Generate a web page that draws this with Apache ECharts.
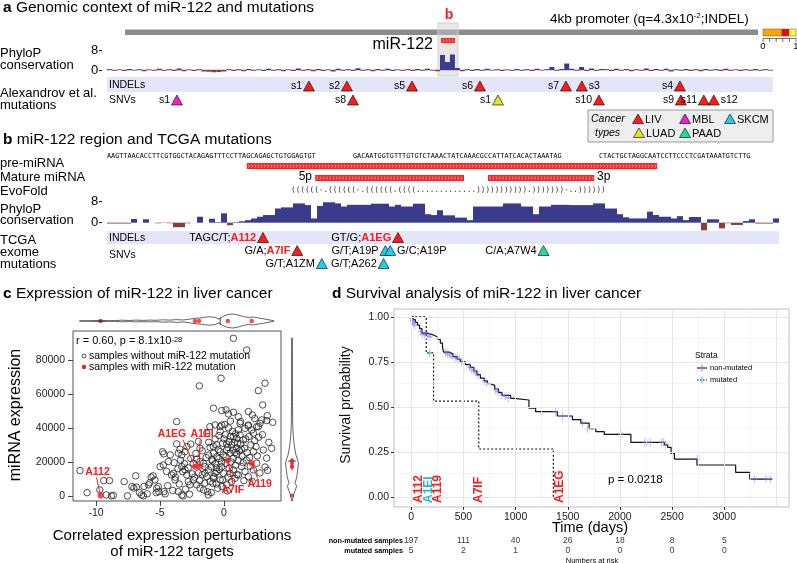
<!DOCTYPE html>
<html>
<head>
<meta charset="utf-8">
<script src="https://cdn.jsdelivr.net/npm/echarts@6/dist/echarts.min.js"></script>
<style>
html, body { margin: 0; padding: 0; background: #fff; }
#main { width: 797px; height: 563px; }
</style>
</head>
<body>
<div id="main"></div>
<script>
// ---------- panel a: genomic context ----------
const aPhylo = [0.3,-0.3,0.2,-0.4,0.4,-0.2,0.3,-0.5,0.2,-0.3,
  0.5,-0.3,0.3,-0.4,0.6,-0.5,0.2,-0.4,0.3,-0.6,
  -0.7,-0.9,-0.8,-0.6,0.3,-0.4,0.3,-0.5,0.4,-0.3,
  0.2,-0.4,0.5,-0.3,0.3,-0.5,0.2,-0.4,0.6,-0.3,
  0.3,-0.5,0.4,-0.4,0.2,-0.6,0.5,-0.3,0.3,-0.4,
  0.7,-0.3,0.3,-0.5,0.4,-0.3,0.5,-0.4,0.2,-0.3,
  0.3,-0.4,0.4,-0.3,0.5,-0.2,-0.5,
  6.0,3.2,6.2,0.8,
  -0.5,0.3,-0.4,0.4,-0.3,0.5,-0.2,0.3,-0.4,
  0.2,-0.3,0.4,-0.3,0.3,-0.4,0.5,-0.2,0.3,1.2,
  -0.3,0.4,2.6,0.5,-0.3,1.2,-0.4,0.6,-0.3,0.4,
  0.3,-0.4,0.5,-0.3,0.4,-0.5,0.3,-0.3,0.6,-0.4,
  0.4,-0.3,0.5,-0.6,0.3,-0.3,0.4,-0.4,0.3,-0.5,
  0.4,-0.3,0.3,-0.4,0.5,-0.3,0.2,-0.4,0.3,-0.3,
  0.4,-0.3,0.3,-0.2];
// positions in bp along the 4.4 kb window
const aIndelPos = [1334, 1585, 2015, 2464, 3032, 3137, 3785];
const aIndelNames = ['s1', 's2', 's5', 's6', 's7', 's3', 's4'];
const aIndelType = ['LIV', 'LIV', 'LIV', 'LIV', 'LIV', 'LIV', 'LIV'];
const aSnvPos = [462, 1625, 2583, 3250, 3791, 3943, 4009];
const aSnvNames = ['s1', 's8', 's1', 's10', 's9', 's11', 's12'];
const aSnvType = ['MBL', 'LIV', 'LUAD', 'LIV', 'LIV', 'LIV', 'LIV'];

// ---------- panel b: miR-122 region ----------
const bSeq = ['AAGTTAACACCTTCGTGGCTACAGAGTTTCCTTAGCAGAGCTGTGGAGTGT',
  'GACAATGGTGTTTGTGTCTAAACTATCAAACGCCATTATCACACTAAATAG',
  'CTACTGCTAGGCAATCCTTCCCTCGATAAATGTCTTG'];
const bEvoFold = '((((((-.((((((-.((((((.((((.............))))))))))).)))))))-..))))))';
const bPhylo = [-0.3,-0.3,-0.3,-0.3,1.3,0,1.2,0,-0.2,-0.1,
  -0.2,-1.6,-1.6,-0.2,0,2.1,0,1.4,0.2,3.3,
  -0.9,0.2,0.5,0.9,1.5,2.1,2.7,2.7,5.0,5.4,
  5.4,6.8,6.8,6.2,1.5,5.9,7.2,7.2,6.8,5.7,
  6.3,6.3,6.3,6.3,6.7,6.7,6.7,5.7,6.3,5.7,
  5.7,6.7,6.7,3.0,2.7,4.4,2.6,2.6,1.8,1.8,
  0.9,5.7,5.7,5.7,5.7,5.7,6.8,6.8,6.8,5.7,
  5.7,3.0,5.7,5.7,6.3,6.3,6.3,6.2,6.2,6.2,
  6.2,6.8,6.8,5.0,5.0,3.0,1.9,1.5,1.5,1.5,
  3.9,2.7,2.1,2.1,1.5,2.3,0.9,2.0,2.0,-2.7,
  1.2,1.2,-2.0,-0.2,-0.8,-0.8,0.6,1.2,-0.3,-0.3,
  -0.3,1.5];
// regions in base-slot units along the track
const preMirna = [[23.3, 91.7, 0]];
const matureMirna = [[34.7, 59.5, 1], [63.5, 81.2, 1]];
const bMutPos = [26.0, 48.5, 31.7, 35.8, 46.4, 47.2, 46.1, 72.75];
const bMutRow = [0, 0, 1, 2, 1, 1, 2, 1];
const bMutChange = ['TAGC/T', 'GT/G', 'G/A', 'G/T', 'G/T', 'G/C', 'G/T', 'C/A'];
const bMutSample = ['A112', 'A1EG', 'A7IF', 'A1ZM', 'A19P', 'A19P', 'A262', 'A7W4'];
const bMutType = ['LIV', 'LIV', 'LIV', 'SKCM', 'SKCM', 'SKCM', 'SKCM', 'PAAD'];

// ---------- panel c: expression scatter ----------
const nonMutPts = [
  [-11.25,14900],[-10.7,1900],[-9.7,3500],[-9.4,9000],[-8.95,9000],[-9.2,600],[-8.8,0],[-8.65,300],
  [-7.8,8400],[-7.55,0],[-7.2,5500],[-7.05,4600],[-6.9,11800],[-6.85,5200],[-6.6,1900],[-6.45,600],
  [-6.3,0],[-6.25,5600],[-6.0,1200],[-5.9,6500],[-5.8,7800],[-5.7,11000],[-5.55,11800],[-5.4,9400],
  [-5.26,4500],[-5.13,5500],[-5.3,1900],[-5.1,2500],[-4.7,2500],[-4.6,1200],
  [-5.0,17200],[-4.8,26000],[-4.7,24700],[-4.74,18200],[-4.35,20200],[-4.2,24100],[-4.1,12300],
  [-3.96,13300],[-3.83,9400],[-3.57,2500],[-3.3,600],[-3.2,0],[-3.7,30600],[-3.57,25100],[-3.44,27400],
  [-3.3,24100],[-3.05,26000],[-2.9,29000],[-3.7,43700],[-4.5,14500],[-4.4,6000],[-4.0,3200],
  [-3.9,19500],[-3.6,16000],[-3.4,21000],[-3.1,19000],[-3.8,11000],[-3.5,7000],[-3.0,4000],
  [-3.3,17200],[-3.23,14300],[-3.05,15300],[-2.91,12300],[-2.79,8400],[-2.66,6500],[-2.4,9400],
  [-2.13,6500],[-1.88,4500],[-1.6,3500],[-2.4,19200],[-2.13,21600],[-1.88,20200],[-1.6,19200],
  [-1.48,17200],[-1.88,28000],[-2.8,16500],[-2.6,22000],[-2.5,13000],[-2.3,11000],[-2.0,13500],
  [-1.9,9000],[-1.7,12500],[-1.5,7500],[-1.4,22500],[-2.2,25000],[-2.6,30500],[-2.0,32000],
  [-1.7,26500],[-1.23,600],[-1.3,2500],[-2.7,1000],
  [-1.1,28600],[-0.83,29000],[-0.57,30000],[-0.45,27400],[-1.35,36800],[-1.1,40700],[-0.3,37800],
  [-0.18,41700],[-1.48,13300],[-1.35,11300],[-1.23,15300],[-1.1,8400],[-0.88,7400],[-0.83,10400],
  [-0.7,13300],[-0.57,14300],[-0.3,9400],[-0.18,17200],[-0.05,13300],[-0.83,25100],[-0.57,23100],
  [-0.3,26000],[-0.05,24100],[-1.2,24000],[-1.0,17000],[-0.9,20500],[-0.7,19000],[-0.6,16500],
  [-0.4,22000],[-0.2,20000],[-0.1,31000],[-0.5,4500],[-1.0,2000],[-0.8,11500],[-0.1,9500],
  [-0.7,33500],[-0.4,35500],[-1.2,31500],[-0.95,21500],[-0.35,15500],[-0.15,5500],[-0.6,7000],
  [0.08,19200],[0.2,27000],[0.47,25100],[0.73,22200],[0.99,28000],[0.73,34900],[0.99,33900],
  [1.25,35900],[1.5,32900],[1.12,38800],[1.25,42700],[0.47,13300],[0.73,15300],[0.86,10400],
  [1.12,12300],[1.38,17200],[0.0,33500],[0.1,36000],[0.2,30500],[0.3,28500],[0.4,32000],
  [0.5,35000],[0.6,30000],[0.7,27000],[0.8,31500],[0.9,36500],[1.0,24500],[1.1,21000],
  [1.2,26500],[1.3,30500],[1.4,23500],[1.5,19500],[0.9,18000],[0.4,16000],[0.2,6500],
  [0.6,8500],[1.0,12500],[0.3,11000],[0.55,20000],[0.15,23000],[0.85,25500],[1.35,27500],
  [0.65,38000],[0.35,40000],[0.05,42000],[1.05,31000],[0.25,3000],
  [1.64,39800],[1.9,41700],[2.16,38800],[2.29,36900],[2.55,40700],[2.81,42700],[1.64,14300],
  [1.9,11300],[2.29,15300],[2.55,19200],[3.07,27000],[3.33,22200],[3.72,28000],[1.6,28000],
  [1.7,33500],[1.8,25500],[2.0,22500],[2.1,30000],[2.3,26000],[2.4,32500],[2.6,23500],
  [2.8,13500],[3.0,36000],[3.2,17000],[3.5,31500],[3.4,15000],[1.75,21000],[2.05,17500],
  [2.5,29000],[1.95,35000],[2.7,34500],[1.55,9000],[2.2,8500],
  [0.73,92700],[1.77,85800],[-0.23,69200],[-1.93,64700],[3.2,66300],[2.68,61900],[3.02,53500],
  [-0.83,51600],[-0.18,50200],[0.16,50600],[0.34,48200],[0.73,49200],[1.12,46600],[1.9,49600],
  [2.21,47600],[3.38,47200],[2.94,44700],[3.8,43300],[-0.7,41700],[-0.31,40700],[1.3,43700],
  [1.88,41200],[2.68,40700],[3.33,44300],[0.5,44000],[2.4,45500]];
const mutNames = ['A112', 'A1EG', 'A1EI', 'A7IF', 'A119'];
const mutX = [-9.65, -2.27, -1.95, 0.29, 2.16];
const mutY = [300, 17200, 17200, 20800, 19200];
// marginal violins (half widths)
const topVX = [-11.3,-10.5,-9.6,-9.0,-8.5,-8.0,-7.4,-6.9,-6.3,-5.8,-5.3,-4.8,-4.2,-3.7,-3.2,-2.7,-2.3,
  -1.9,-1.5,-1.1,-0.7,-0.4,-0.1,0.3,0.7,1.1,1.5,1.9,2.3,2.7,3.1,3.5,3.9];
const topVW = [0.2,0.3,0.6,0.3,0.4,0.8,0.5,0.9,0.6,0.9,0.7,1.2,0.9,1.4,1.0,1.8,2.6,3.0,3.8,4.2,3.6,
  1.8,4.5,6.5,7.0,6.0,4.5,3.5,4.0,3.0,2.2,1.2,0.3];
const topMedian = -0.3;
const rightVY = [93000,85000,70000,55000,42000,36000,31000,27000,24000,21500,19000,17000,16000,
  14500,12000,9500,7500,6000,4500,3000,1500,0,-1500,-3000];
const rightVW = [0.3,0.4,0.4,0.5,0.7,1.2,2.0,3.0,4.0,5.5,6.5,6.0,4.5,5.5,5.0,4.0,3.0,4.5,4.0,3.0,
  2.0,1.5,0.8,0.3];
const rightMedian = 20500;
const rightRedBar = [15000, 22300];

// ---------- panel d: survival ----------
const kmNonMut = [[0,1.0],[20,0.985],[40,0.97],[60,0.955],[80,0.935],[103,0.91],[150,0.9],[212,0.89],
  [250,0.875],[279,0.855],[300,0.83],[310,0.805],[360,0.795],[400,0.78],[440,0.765],[471,0.75],
  [520,0.735],[567,0.72],[600,0.7],[630,0.68],[663,0.66],[700,0.645],[730,0.63],[760,0.62],
  [800,0.6],[837,0.58],[870,0.565],[952,0.548],[985,0.539],[1128,0.493],[1192,0.474],[1400,0.45],
  [1545,0.43],[1625,0.41],[1705,0.38],[1769,0.363],[1850,0.348],[2105,0.304],[2426,0.29],
  [2458,0.276],[2490,0.243],[2522,0.211],[2738,0.178],[3109,0.137],[3244,0.1],[3459,0.1]];
const kmNonMutCensor = [[5,0.99],[12,0.98],[18,0.975],[25,0.965],[35,0.955],[90,0.92],[110,0.905],
  [130,0.9],[160,0.895],[180,0.89],[330,0.8],[350,0.795],[370,0.79],[390,0.78],[420,0.775],
  [440,0.77],[460,0.765],[480,0.75],[500,0.745],[560,0.72],[580,0.71],[600,0.7],[620,0.69],
  [640,0.675],[700,0.645],[720,0.635],[810,0.595],[830,0.585],[870,0.565],[900,0.56],[930,0.55],
  [1380,0.474],[1450,0.45],[1510,0.45],[1640,0.41],[1690,0.38],[2010,0.348],[2240,0.304],
  [2290,0.304],[2400,0.304],[2420,0.304],[2440,0.29],[2740,0.211],[3290,0.1],[3400,0.1],[3440,0.1]];
const kmMut = [[0,1.0],[144,0.8],[214,0.533],[647,0.267],[1362,0]];
const kmMutCensor = [[176,0.8]];
const kmLabelNames = ['A112', 'A1EI', 'A119', 'A7IF', 'A1EG'];
const kmLabelTimes = [75, 172, 258, 650, 1425];
const kmLabelType = ['LIV', 'censored', 'LIV', 'LIV', 'LIV'];
const riskTimes = [0, 500, 1000, 1500, 2000, 2500, 3000];
const riskNonMut = [197, 111, 40, 26, 18, 8, 5];
const riskMut = [5, 2, 1, 0, 0, 0, 0];
const kmTicks = [0, 500, 1000, 1500, 2000, 2500, 3000];
const kmProbTicks = [0, 0.25, 0.5, 0.75, 1];

// ---------- styling ----------
const FONT = '"Liberation Sans", Arial, sans-serif';
const MONO = '"DejaVu Sans Mono", monospace';
const typeColor = { LIV: '#ff1a1a', MBL: '#ee22cc', SKCM: '#22ccee', LUAD: '#dde622', PAAD: '#22dd99' };
const NAVY = '#3b3b8c', BROWN = '#8e3b3b';
// label offsets (px) of the mutated samples in panel c: [label dx, label dy, line-end dx, line-end dy]
const mutLabelOffset = [[-3, -23, -4, -18], [-23, -33, -12, -27], [3, -33, 1, -27], [5, 30, 5, 23], [8, 21, 6, 15]];

let chart = echarts.init(document.getElementById('main'));

function txt(x, y, s, size, extra, rot) {
  let el = {
    type: 'text', x: x, y: y, z: 100, silent: true,
    style: Object.assign({ text: s, fontSize: size, fontFamily: FONT, fill: '#000',
      align: 'left', verticalAlign: 'middle' }, extra || {})
  };
  if (rot) el.rotation = rot;
  return el;
}
function rect(x, y, w, h, style) {
  return { type: 'rect', silent: true, z: 0, shape: { x: x, y: y, width: w, height: h }, style: style };
}
function legTri(cx, cy, color) {
  return { type: 'polygon', silent: true, z: 50,
    shape: { points: [[cx, cy - 5], [cx + 5.5, cy + 4.5], [cx - 5.5, cy + 4.5]] },
    style: { fill: color, stroke: '#000', lineWidth: 0.6 } };
}
function titleRich(letter, rest) {
  return '{b|' + letter + '} ' + rest;
}
const titleStyle = { rich: { b: { fontWeight: 'bold', fontSize: 15.5, fontFamily: FONT } } };

function hAxis(gi, o) { return Object.assign({ gridIndex: gi, show: false }, o); }

function signColor(p) { return p.value >= 0 ? NAVY : BROWN; }

const aMutData = [];
const aRightLabel = { 's3': true, 's12': true };
aIndelPos.forEach((p, i) => aMutData.push({ value: [p, 0], name: aIndelNames[i],
  itemStyle: { color: typeColor[aIndelType[i]] },
  label: { position: aRightLabel[aIndelNames[i]] ? 'right' : 'left' } }));
aSnvPos.forEach((p, i) => aMutData.push({ value: [p, 1], name: aSnvNames[i],
  itemStyle: { color: typeColor[aSnvType[i]] },
  label: { position: aRightLabel[aSnvNames[i]] ? 'right' : 'left' } }));

const bRightLabel = [false, false, false, false, false, true, false, false];
const bMutData = bMutPos.map((p, i) => ({ value: [p, bMutRow[i]],
  itemStyle: { color: typeColor[bMutType[i]] },
  label: { position: bRightLabel[i] ? 'right' : 'left' } }));

// chevron-filled red bar (miRNA annotation)
function mirnaBar(x0, x1, yc, h) {
  let kids = [{ type: 'rect', shape: { x: x0, y: yc - h / 2, width: x1 - x0, height: h }, style: { fill: '#ff2020' } }];
  for (let x = x0 + 1.5; x < x1 - 2; x += 3.2) {
    kids.push({ type: 'polyline', shape: { points: [[x, yc - 1.6], [x + 1.4, yc], [x, yc + 1.6]] },
      style: { stroke: '#fff', lineWidth: 0.6, fill: null } });
  }
  return kids;
}

const kmGridX = [], kmGridY = [];
for (let t = 0; t <= 3500; t += 250) kmGridX.push(t);
for (let s = 0; s <= 1.0001; s += 0.125) kmGridY.push(+s.toFixed(3));

const graphics = [
  // ----- panel a -----
  txt(3, 8, titleRich('a', 'Genomic context of miR-122 and mutations'), 15.5, titleStyle),
  txt(449, 15, 'b', 14, { fontWeight: 'bold', fill: '#ff1a1a', align: 'center' }),
  txt(550, 19, '4kb promoter (q=4.3x10{s|-2};INDEL)', 13.5, { rich: { s: { fontSize: 8, verticalAlign: 'top', fontFamily: FONT } } }),
  rect(125, 29.5, 633, 5.5, { fill: '#8c8c8c' }),
  rect(763, 29, 19, 7, { fill: '#ffa500', stroke: '#555', lineWidth: 0.5 }),
  rect(782, 29, 7, 7, { fill: '#ff0000', stroke: '#555', lineWidth: 0.5 }),
  rect(789, 29, 7, 7, { fill: '#ffff33', stroke: '#555', lineWidth: 0.5 }),
  { type: 'line', silent: true, shape: { x1: 763, y1: 38.5, x2: 796, y2: 38.5 }, style: { stroke: '#333', lineWidth: 0.7 } },
  txt(763, 46, '0', 9.5, { align: 'center' }),
  txt(796, 46, '1', 9.5, { align: 'center' }),
  rect(438, 23, 20, 53, { fill: 'rgba(205,205,205,0.45)', stroke: '#cfcfcf', lineWidth: 1 }),
  { type: 'line', silent: true, z: 1, shape: { x1: 107, y1: 70, x2: 773, y2: 70 }, style: { stroke: '#9a8aa8', lineWidth: 0.8 } },
  txt(433, 45, 'miR-122', 16, { align: 'right' }),
  txt(0, 53, 'PhyloP', 13), txt(0, 65, 'conservation', 13),
  txt(91, 50, '8-', 13), txt(91, 70, '0-', 13),
  rect(107, 77, 666, 15, { fill: '#e3e6f8' }),
  txt(109, 85.5, 'INDELs', 10.5), txt(109, 100, 'SNVs', 10.5),
  txt(0, 93, 'Alexandrov et al.', 13), txt(0, 105, 'mutations', 13),
  rect(588, 110, 185, 32, { fill: '#eeeeee', stroke: '#9a9a9a', lineWidth: 1 }),
  txt(591, 119, 'Cancer', 10.5, { fontStyle: 'italic' }),
  txt(595, 133, 'types', 10.5, { fontStyle: 'italic' }),
  legTri(638, 119, typeColor.LIV), txt(645, 119.5, 'LIV', 11),
  legTri(685, 119, typeColor.MBL), txt(692, 119.5, 'MBL', 11),
  legTri(730, 119, typeColor.SKCM), txt(737, 119.5, 'SKCM', 11),
  legTri(639, 133, typeColor.LUAD), txt(646, 133.5, 'LUAD', 11),
  legTri(685, 133, typeColor.PAAD), txt(692, 133.5, 'PAAD', 11),
  // ----- panel b -----
  txt(3, 140, titleRich('b', 'miR-122 region and TCGA mutations'), 15.5, titleStyle),
  txt(107, 156.5, bSeq[0], 6.8, { fontFamily: MONO }),
  txt(353, 156.5, bSeq[1], 6.8, { fontFamily: MONO }),
  txt(599, 156.5, bSeq[2], 6.8, { fontFamily: MONO }),
  txt(0, 163, 'pre-miRNA', 13), txt(0, 177, 'Mature miRNA', 13), txt(0, 191, 'EvoFold', 13),
  txt(0, 209, 'PhyloP', 13), txt(0, 220, 'conservation', 13),
  txt(91, 201, '8-', 13), txt(91, 222, '0-', 13),
  txt(312, 177, '5p', 12, { align: 'right' }), txt(597, 177, '3p', 12),
  txt(291, 190, bEvoFold, 7.7, { fontFamily: MONO, fill: '#333' }),
  rect(107, 231, 672, 13, { fill: '#e3e6f8' }),
  txt(109, 238, 'INDELs', 10.5), txt(109, 255, 'SNVs', 10.5),
  txt(0, 240, 'TCGA', 13), txt(0, 252, 'exome', 13), txt(0, 264, 'mutations', 13),
  // ----- panel c -----
  txt(3, 294, titleRich('c', 'Expression of miR-122 in liver cancer'), 15.5, titleStyle),
  txt(76, 341, 'r = 0.60, p = 8.1x10{s|-28}', 11, { rich: { s: { fontSize: 7.5, verticalAlign: 'top', fontFamily: FONT } } }),
  { type: 'circle', silent: true, z: 60, shape: { cx: 84, cy: 356, r: 2 }, style: { fill: 'none', stroke: '#222', lineWidth: 0.8 } },
  txt(89, 356, 'samples without miR-122 mutation', 10.5),
  { type: 'circle', silent: true, z: 60, shape: { cx: 84, cy: 367, r: 2.2 }, style: { fill: '#ff1a1a' } },
  txt(89, 367, 'samples with miR-122 mutation', 10.5),
  txt(16, 415, 'miRNA expression', 16, { align: 'center' }, Math.PI / 2),
  txt(172, 536, 'Correlated expression perturbations', 15, { align: 'center' }),
  txt(172, 552, 'of miR-122 targets', 15, { align: 'center' }),
  // ----- panel d -----
  txt(332, 294, titleRich('d', 'Survival analysis of miR-122 in liver cancer'), 15.5, titleStyle),
  txt(346, 405, 'Survival probability', 14, { align: 'center', fill: '#111' }, Math.PI / 2),
  txt(590, 528, 'Time (days)', 14.5, { align: 'center' }),
  txt(695, 356, 'Strata', 8.5),
  { type: 'line', silent: true, z: 60, shape: { x1: 697, y1: 368, x2: 707, y2: 368 }, style: { stroke: '#000', lineWidth: 1 } },
  { type: 'line', silent: true, z: 61, shape: { x1: 702, y1: 364.5, x2: 702, y2: 371.5 }, style: { stroke: '#7d7dff', lineWidth: 1 } },
  txt(710, 368, 'non-mutated', 7.5),
  { type: 'line', silent: true, z: 60, shape: { x1: 697, y1: 380, x2: 707, y2: 380 }, style: { stroke: '#000', lineWidth: 1, lineDash: [1.5, 1.5] } },
  { type: 'line', silent: true, z: 61, shape: { x1: 702, y1: 376.5, x2: 702, y2: 383.5 }, style: { stroke: '#33cccc', lineWidth: 1 } },
  txt(710, 380, 'mutated', 7.5),
  txt(608, 480, 'p = 0.0218', 11.5),
  txt(403, 541, 'non-mutated samples', 7.2, { align: 'right', fontWeight: 'bold' }),
  txt(403, 551.5, 'mutated samples', 7.2, { align: 'right', fontWeight: 'bold' }),
  txt(592, 560.5, 'Numbers at risk', 7.5, { align: 'center' })
];
graphics.push({ type: 'group', silent: true, z: 40, children: mirnaBar(441, 455, 40.5, 5) });
for (let k = 0; k <= 5; k++) {
  graphics.push({ type: 'line', silent: true, shape: { x1: 763 + k * 6.6, y1: 38.5, x2: 763 + k * 6.6, y2: 42 }, style: { stroke: '#333', lineWidth: 0.7 } });
}

const scatterX = { min: -11.8, max: 4.45 };
const scatterY = { min: -3000, max: 97000 };
const kmX = { min: -165, max: 3620 };
const kmY = { min: -0.055, max: 1.044 };

const option = {
  animation: false,
  backgroundColor: '#fff',
  textStyle: { fontFamily: FONT },
  graphic: { elements: graphics },
  grid: [
    { left: 107, top: 45, width: 666, height: 30 },      // 0 a phylo
    { left: 107, top: 79, width: 666, height: 28 },      // 1 a mutations
    { left: 107, top: 200, width: 672, height: 31.2 },   // 2 b phylo
    { left: 107, top: 160, width: 672, height: 36 },     // 3 b annotation
    { left: 107, top: 231, width: 672, height: 39 },     // 4 b mutations
    { left: 73, top: 331, width: 208, height: 170, show: true, borderColor: '#555', borderWidth: 1 }, // 5 c scatter
    { left: 73, top: 311, width: 208, height: 20 },      // 6 c top violin
    { left: 282, top: 331, width: 20, height: 170 },     // 7 c right violin
    { left: 394, top: 309, width: 395, height: 198, show: true, borderColor: '#bdbdbd', borderWidth: 1, backgroundColor: '#fff' }, // 8 km
    { left: 394, top: 536, width: 395, height: 20 }      // 9 risk table
  ],
  xAxis: [
    hAxis(0, { type: 'category', data: aPhylo.map((v, i) => i) }),
    hAxis(1, { type: 'value', min: 0, max: 4400 }),
    hAxis(2, { type: 'category', data: bPhylo.map((v, i) => i) }),
    hAxis(3, { type: 'value', min: 0, max: 112 }),
    hAxis(4, { type: 'value', min: 0, max: 112 }),
    { gridIndex: 5, type: 'value', min: scatterX.min, max: scatterX.max,
      axisLine: { show: false, onZero: false }, splitLine: { show: false },
      axisTick: { show: true, length: 5, lineStyle: { color: '#444' }, customValues: [-10, -5, 0] },
      axisLabel: { customValues: [-10, -5, 0], fontSize: 10.5, color: '#222', margin: 7, fontFamily: FONT } },
    hAxis(6, { type: 'value', min: scatterX.min, max: scatterX.max }),
    hAxis(7, { type: 'value', min: -10, max: 10 }),
    { gridIndex: 8, type: 'value', min: kmX.min, max: kmX.max,
      axisLine: { show: false, onZero: false }, splitLine: { show: false },
      axisTick: { show: true, length: 3, lineStyle: { color: '#333' }, customValues: kmTicks },
      axisLabel: { customValues: kmTicks, fontSize: 10.5, color: '#1a1a1a', margin: 5, fontFamily: FONT,
        formatter: v => String(v) } },
    hAxis(9, { type: 'value', min: kmX.min, max: kmX.max })
  ],
  yAxis: [
    hAxis(0, { type: 'value', min: -2, max: 10 }),
    hAxis(1, { type: 'value', min: -0.5, max: 1.5, inverse: true }),
    hAxis(2, { type: 'value', min: -3, max: 8 }),
    hAxis(3, { type: 'value', min: -0.5, max: 2.5, inverse: true }),
    hAxis(4, { type: 'value', min: -0.5, max: 2.5, inverse: true }),
    { gridIndex: 5, type: 'value', min: scatterY.min, max: scatterY.max,
      axisLine: { show: false, onZero: false }, splitLine: { show: false },
      axisTick: { show: true, length: 5, lineStyle: { color: '#444' }, customValues: [0, 20000, 40000, 60000, 80000] },
      axisLabel: { customValues: [0, 20000, 40000, 60000, 80000], fontSize: 10.5, color: '#222', margin: 8,
        fontFamily: FONT, formatter: v => String(v) } },
    hAxis(6, { type: 'value', min: -10, max: 10 }),
    hAxis(7, { type: 'value', min: scatterY.min, max: scatterY.max }),
    { gridIndex: 8, type: 'value', min: kmY.min, max: kmY.max,
      axisLine: { show: false, onZero: false }, splitLine: { show: false },
      axisTick: { show: true, length: 3, lineStyle: { color: '#333' }, customValues: kmProbTicks },
      axisLabel: { customValues: kmProbTicks, fontSize: 10.5, color: '#1a1a1a', margin: 5, fontFamily: FONT,
        formatter: v => v.toFixed(2) } },
    hAxis(9, { type: 'value', min: -0.5, max: 1.5, inverse: true })
  ],
  series: [
    // a: conservation
    { type: 'bar', xAxisIndex: 0, yAxisIndex: 0, data: aPhylo, barCategoryGap: '0%',
      itemStyle: { color: signColor }, silent: true },
    // a: mutations
    { type: 'scatter', xAxisIndex: 1, yAxisIndex: 1, data: aMutData, symbol: 'triangle', symbolSize: [11, 10],
      itemStyle: { borderColor: '#000', borderWidth: 0.6, opacity: 1 }, silent: true,
      label: { show: true, formatter: '{b}', distance: 1, fontSize: 10.5, color: '#000', fontFamily: FONT } },
    // b: conservation
    { type: 'bar', xAxisIndex: 2, yAxisIndex: 2, data: bPhylo, barCategoryGap: 0,
      itemStyle: { color: signColor }, silent: true },
    // b: pre-miRNA and mature miRNA
    { type: 'custom', xAxisIndex: 3, yAxisIndex: 3, data: preMirna.concat(matureMirna), silent: true,
      encode: { x: [0, 1], y: 2 },
      renderItem: function (params, api) {
        const s = api.coord([api.value(0), api.value(2)]);
        const e = api.coord([api.value(1), api.value(2)]);
        return { type: 'group', children: mirnaBar(s[0], e[0], s[1], 6) };
      } },
    // b: TCGA mutations
    { type: 'scatter', xAxisIndex: 4, yAxisIndex: 4, data: bMutData, symbol: 'triangle', symbolSize: [11, 10],
      itemStyle: { borderColor: '#000', borderWidth: 0.6, opacity: 1 }, silent: true,
      label: { show: true, distance: 1, fontSize: 11, color: '#000', fontFamily: FONT,
        formatter: function (p) {
          const i = p.dataIndex;
          return bMutType[i] === 'LIV' ? bMutChange[i] + ';{r|' + bMutSample[i] + '}' : bMutChange[i] + ';' + bMutSample[i];
        },
        rich: { r: { color: '#ff1a1a', fontWeight: 'bold', fontSize: 11, fontFamily: FONT } } } },
    // c: scatter without mutation
    { type: 'scatter', xAxisIndex: 5, yAxisIndex: 5, data: nonMutPts, symbolSize: 6.5, silent: true,
      itemStyle: { color: 'rgba(0,0,0,0)', borderColor: '#222', borderWidth: 0.8, opacity: 1 } },
    // c: mutated samples
    { type: 'scatter', xAxisIndex: 5, yAxisIndex: 5, symbolSize: 6, silent: true, z: 5,
      data: mutX.map((x, i) => [x, mutY[i]]),
      itemStyle: { color: '#ff1a1a' } },
    // c: labels of mutated samples with pointer lines
    { type: 'custom', xAxisIndex: 5, yAxisIndex: 5, silent: true, z: 6,
      data: mutX.map((x, i) => [x, mutY[i], i]),
      renderItem: function (params, api) {
        const i = api.value(2);
        const p = api.coord([api.value(0), api.value(1)]);
        const o = mutLabelOffset[i];
        return { type: 'group', children: [
          { type: 'line', shape: { x1: p[0], y1: p[1], x2: p[0] + o[2], y2: p[1] + o[3] },
            style: { stroke: '#ff1a1a', lineWidth: 1 } },
          { type: 'text', x: p[0] + o[0], y: p[1] + o[1],
            style: { text: mutNames[i], fill: '#ff1a1a', fontWeight: 'bold', fontSize: 10.5, fontFamily: FONT,
              align: 'center', verticalAlign: 'middle' } }
        ] };
      } },
    // c: top violin
    { type: 'line', xAxisIndex: 6, yAxisIndex: 6, data: topVX.map((x, i) => [x, topVW[i]]), showSymbol: false,
      silent: true, lineStyle: { color: '#222', width: 0.7 } },
    { type: 'line', xAxisIndex: 6, yAxisIndex: 6, data: topVX.map((x, i) => [x, -topVW[i]]), showSymbol: false,
      silent: true, lineStyle: { color: '#222', width: 0.7 } },
    { type: 'line', xAxisIndex: 6, yAxisIndex: 6, data: [[topMedian, -4], [topMedian, 4]], showSymbol: false,
      silent: true, lineStyle: { color: '#222', width: 0.8 } },
    { type: 'scatter', xAxisIndex: 6, yAxisIndex: 6, data: mutX.map(x => [x, 0]), symbolSize: 4.5, silent: true,
      itemStyle: { color: '#ff1a1a' } },
    // c: right violin
    { type: 'line', xAxisIndex: 7, yAxisIndex: 7, data: rightVY.map((y, i) => [rightVW[i], y]), showSymbol: false,
      silent: true, lineStyle: { color: '#222', width: 0.7 } },
    { type: 'line', xAxisIndex: 7, yAxisIndex: 7, data: rightVY.map((y, i) => [-rightVW[i], y]), showSymbol: false,
      silent: true, lineStyle: { color: '#222', width: 0.7 } },
    { type: 'line', xAxisIndex: 7, yAxisIndex: 7, data: [[-4, rightMedian], [4, rightMedian]], showSymbol: false,
      silent: true, lineStyle: { color: '#222', width: 0.8 } },
    { type: 'line', xAxisIndex: 7, yAxisIndex: 7, data: [[0, rightRedBar[0]], [0, rightRedBar[1]]], showSymbol: false,
      silent: true, lineStyle: { color: '#ff1a1a', width: 1 } },
    { type: 'scatter', xAxisIndex: 7, yAxisIndex: 7, data: mutY.map(y => [0, y]), symbolSize: 4, silent: true,
      itemStyle: { color: '#ff1a1a' } },
    // d: grid lines
    { type: 'line', xAxisIndex: 8, yAxisIndex: 8, data: [[-1000, -1]], showSymbol: false, silent: true, z: 1,
      markLine: { silent: true, symbol: 'none', label: { show: false }, animation: false,
        data: kmGridX.map(t => ({ xAxis: t, lineStyle: { color: t % 500 === 0 ? '#e6e6e6' : '#f1f1f1', width: t % 500 === 0 ? 1 : 0.7, type: 'solid' } }))
          .concat(kmGridY.map(s => ({ yAxis: s, lineStyle: { color: (s * 4) % 1 === 0 ? '#e6e6e6' : '#f1f1f1', width: (s * 4) % 1 === 0 ? 1 : 0.7, type: 'solid' } }))) } },
    // d: non-mutated curve
    { type: 'line', xAxisIndex: 8, yAxisIndex: 8, data: kmNonMut, step: 'end', showSymbol: false, silent: true,
      lineStyle: { color: '#111', width: 1.2 }, z: 3 },
    { type: 'scatter', xAxisIndex: 8, yAxisIndex: 8, data: kmNonMutCensor, silent: true, z: 4,
      symbol: 'path://M4,0L4,10M0,5L8,5', symbolSize: [5, 8],
      itemStyle: { color: 'rgba(0,0,0,0)', borderColor: 'rgba(110,110,255,0.75)', borderWidth: 1 } },
    // d: mutated curve
    { type: 'line', xAxisIndex: 8, yAxisIndex: 8, data: kmMut, step: 'end', showSymbol: false, silent: true,
      lineStyle: { color: '#111', width: 1.2, type: [2, 2] }, z: 3 },
    { type: 'scatter', xAxisIndex: 8, yAxisIndex: 8, data: kmMutCensor, silent: true, z: 4,
      symbol: 'path://M4,0L4,10M0,5L8,5', symbolSize: [5, 8],
      itemStyle: { color: 'rgba(0,0,0,0)', borderColor: '#22bbbb', borderWidth: 1 } },
    // d: sample labels
    { type: 'custom', xAxisIndex: 8, yAxisIndex: 8, silent: true, z: 5,
      data: kmLabelTimes.map((t, i) => [t, i]),
      renderItem: function (params, api) {
        const i = api.value(1);
        const p = api.coord([api.value(0), -0.033]);
        return { type: 'text', x: p[0], y: p[1], rotation: Math.PI / 2,
          style: { text: kmLabelNames[i], fill: kmLabelType[i] === 'LIV' ? '#ff1a1a' : '#22bbcc',
            fontSize: 12, fontWeight: 'bold', fontFamily: FONT, align: 'left', verticalAlign: 'middle' } };
      } },
    // d: numbers at risk
    { type: 'scatter', xAxisIndex: 9, yAxisIndex: 9, symbolSize: 1, silent: true,
      data: riskTimes.map((t, i) => [t, 0, riskNonMut[i]]).concat(riskTimes.map((t, i) => [t, 1, riskMut[i]])),
      itemStyle: { color: 'rgba(0,0,0,0)' },
      label: { show: true, position: 'inside', formatter: p => String(p.value[2]), fontSize: 8.5, color: '#000', fontFamily: FONT } }
  ]
};

chart.setOption(option);
window.addEventListener('resize', function () { chart.resize(); });
</script>
</body>
</html>
